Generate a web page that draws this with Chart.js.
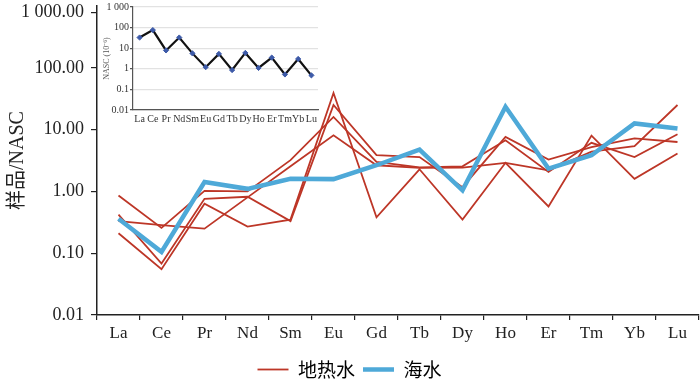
<!DOCTYPE html>
<html>
<head>
<meta charset="utf-8">
<script src="https://cdn.jsdelivr.net/npm/chart.js@4.4.1/dist/chart.umd.min.js"></script>
<style>
  body { margin: 0; background: #fff; }
  #wrap { position: relative; width: 700px; height: 381px; }
  #main { position: absolute; left: 0; top: 0; }
  #inset { position: absolute; left: 100px; top: 0; }
</style>
</head>
<body>
<div id="wrap">
  <canvas id="main" width="700" height="381"></canvas>
  <canvas id="inset" width="240" height="130"></canvas>
</div>
<script>
const elements = ['La', 'Ce', 'Pr', 'Nd', 'Sm', 'Eu', 'Gd', 'Tb', 'Dy', 'Ho', 'Er', 'Tm', 'Yb', 'Lu'];

// 地热水 samples (sample / NASC)
const geo1 = [0.86, 0.257, 1.02, 1.0, 3.2, 16, 3.0, 2.45, 2.55, 6.7, 2.06, 6.1, 3.6, 8.4];
const geo2 = [0.33, 0.285, 0.25, 0.8, 2.55, 8.1, 2.65, 2.4, 2.43, 2.9, 2.19, 4.4, 5.4, 25];
const geo3 = [0.42, 0.068, 0.76, 0.82, 0.33, 25, 3.86, 3.6, 1.17, 7.6, 3.27, 5.2, 7.2, 6.3];
const geo4 = [0.21, 0.055, 0.63, 0.27, 0.35, 39, 0.38, 2.28, 0.35, 2.9, 0.57, 8.0, 1.6, 4.1];
// 海水
const sea = [0.36, 0.105, 1.42, 1.1, 1.6, 1.58, 2.65, 4.76, 1.04, 23.4, 2.34, 3.85, 12.6, 10.4];

// in the source figure the "1 000.00" label sits a bit below the axis top
const yTicks = [0.01, 0.1, 1, 10, 100, 780];
const yTickLabels = ['0.01', '0.10', '1.00', '10.00', '100.00', '1 000.00'];

// inset: NASC itself (10^-6)
const nasc = [33, 76, 7.8, 33, 5.6, 1.2, 5.3, 0.87, 5.9, 1.1, 3.5, 0.53, 3.0, 0.48];
const insetTicks = [0.01, 0.1, 1, 10, 100, 1000];
const insetTickLabels = ['0.01', '0.1', '1', '10', '100', '1 000'];

const RED = '#bd3627';
const BLUE = '#4ea9d8';
const serif = 'Liberation Serif';

function geoSet(data, label) {
  return {
    label: label,
    data: data,
    borderColor: RED,
    borderWidth: 1.8,
    pointRadius: 0,
    tension: 0,
    order: 1
  };
}

new Chart(document.getElementById('main'), {
  type: 'line',
  data: {
    labels: elements,
    datasets: [
      geoSet(geo1, '地热水'),
      geoSet(geo2),
      geoSet(geo3),
      geoSet(geo4),
      {
        label: '海水',
        data: sea,
        borderColor: BLUE,
        borderWidth: 4.5,
        pointRadius: 0,
        tension: 0,
        order: 0
      }
    ]
  },
  options: {
    responsive: false,
    animation: false,
    devicePixelRatio: 1,
    layout: { padding: { top: 6, right: 1, bottom: -8, left: 0 } },
    plugins: {
      tooltip: { enabled: false },
      legend: {
        position: 'bottom',
        labels: {
          usePointStyle: true,
          pointStyleWidth: 31,
          padding: 8,
          color: '#222',
          font: { family: 'Noto Sans CJK SC', size: 19 },
          generateLabels: chart => chart.data.datasets
            .map((ds, i) => ({
              text: ds.label,
              strokeStyle: ds.borderColor,
              fillStyle: ds.borderColor,
              lineWidth: ds.borderWidth,
              pointStyle: 'line',
              datasetIndex: i,
              hidden: false
            }))
            .filter(item => item.text)
        }
      }
    },
    scales: {
      x: {
        type: 'category',
        offset: true,
        grid: { offset: true, drawOnChartArea: false, tickLength: 5, color: '#222', lineWidth: 1.2 },
        border: { color: '#222', width: 1.5 },
        ticks: { color: '#222', padding: 3, font: { family: serif, size: 17 }, autoSkip: false, maxRotation: 0 },
        afterFit: scale => { scale.height = 37; scale.paddingLeft = 0; scale.paddingRight = 0; }
      },
      y: {
        type: 'logarithmic',
        min: 0.01,
        max: 1000,
        afterBuildTicks: scale => { scale.ticks = yTicks.map(v => ({ value: v })); },
        grid: { drawOnChartArea: false, tickLength: 6, color: '#222', lineWidth: 1.2 },
        border: { color: '#222', width: 1.5 },
        ticks: {
          color: '#222',
          padding: 7,
          font: { family: serif, size: 18 },
          callback: (v, i) => yTickLabels[i]
        },
        title: {
          display: true,
          text: '样品/NASC',
          color: '#222',
          padding: { top: 6, bottom: 0 },
          font: { family: serif + ', Noto Sans CJK SC', size: 20 }
        },
        afterFit: scale => { scale.width = 97; scale.paddingTop = 0; scale.paddingBottom = 0; }
      }
    }
  }
});

new Chart(document.getElementById('inset'), {
  type: 'line',
  data: {
    labels: elements,
    datasets: [{
      data: nasc,
      borderColor: '#111',
      borderWidth: 2.2,
      pointStyle: 'rectRot',
      pointRadius: 2.6,
      pointBackgroundColor: '#3d5aa8',
      pointBorderColor: '#3d5aa8',
      pointBorderWidth: 1,
      tension: 0
    }]
  },
  options: {
    responsive: false,
    animation: false,
    devicePixelRatio: 1,
    layout: { padding: { top: 7, right: 22, bottom: 0, left: 0 } },
    plugins: { legend: { display: false }, tooltip: { enabled: false } },
    scales: {
      x: {
        type: 'category',
        offset: true,
        grid: { display: false, drawTicks: false },
        border: { color: '#555', width: 1.2 },
        ticks: { color: '#333', padding: 3, font: { family: serif, size: 10 }, autoSkip: false, maxRotation: 0 },
        afterFit: scale => { scale.height = 20; scale.paddingLeft = 0; scale.paddingRight = 0; }
      },
      y: {
        type: 'logarithmic',
        min: 0.01,
        max: 1000,
        afterBuildTicks: scale => { scale.ticks = insetTicks.map(v => ({ value: v })); },
        grid: { color: '#e2e2e2', lineWidth: 1.2, tickLength: 3, tickColor: '#555' },
        border: { color: '#555', width: 1.2 },
        ticks: { color: '#333', padding: 1, font: { family: serif, size: 10 }, callback: (v, i) => insetTickLabels[i] },
        title: {
          display: true,
          text: 'NASC (10⁻⁶)',
          color: '#555',
          padding: { top: 2, bottom: 0 },
          font: { family: serif, size: 8 }
        },
        afterFit: scale => { scale.width = 33; scale.paddingTop = 0; scale.paddingBottom = 0; }
      }
    }
  }
});
</script>
</body>
</html>
